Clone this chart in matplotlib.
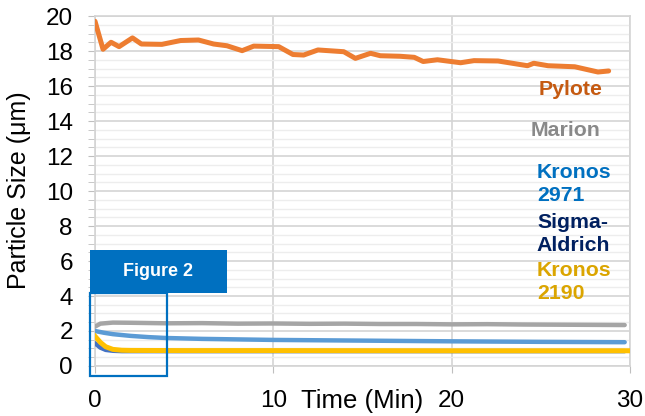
"""Particle size vs time for five TiO2 samples."""
import matplotlib
matplotlib.use("Agg")
import matplotlib.pyplot as plt
from matplotlib.patches import Rectangle
from matplotlib.ticker import MultipleLocator

plt.rcParams["font.family"] = ["Liberation Sans", "DejaVu Sans"]

# Pylote
pylote_t = [0, 0.45, 0.9, 1.35, 2.1, 2.6, 3.75, 4.8, 5.8, 6.65, 7.4, 8.25, 8.9,
            10.3, 11.1, 11.7, 12.5, 13.95, 14.6, 15.45, 16.0, 17.1, 17.9, 18.4,
            19.2, 20.5, 21.25, 22.6, 24.25, 24.6, 25.4, 26.9, 28.2, 28.8]
pylote_v = [19.7, 18.1, 18.5, 18.25, 18.75, 18.4, 18.38, 18.6, 18.63, 18.4, 18.3,
            18.02, 18.28, 18.25, 17.8, 17.77, 18.06, 17.96, 17.58, 17.87, 17.73,
            17.7, 17.64, 17.4, 17.5, 17.33, 17.45, 17.43, 17.16, 17.3, 17.16,
            17.1, 16.8, 16.86]

# Marion
marion_t = [0, 0.3, 1, 2, 4, 6, 8, 10, 12, 14, 16, 18, 20, 22, 24, 26, 28, 29.7]
marion_v = [2.25, 2.42, 2.48, 2.47, 2.44, 2.45, 2.42, 2.43, 2.41, 2.42, 2.40,
            2.40, 2.38, 2.39, 2.37, 2.36, 2.35, 2.34]

# Kronos 2971
k2971_t = [0, 0.5, 1, 2, 3, 4, 6, 8, 10, 15, 20, 25, 29.7]
k2971_v = [2.0, 1.9, 1.82, 1.72, 1.65, 1.6, 1.55, 1.52, 1.49, 1.45, 1.41, 1.38, 1.36]

# Sigma-Aldrich
sigma_t = [0, 0.3, 0.6, 1.0, 1.5, 2, 10, 20, 29.7]
sigma_v = [1.3, 1.05, 0.92, 0.87, 0.85, 0.85, 0.85, 0.85, 0.85]

# Kronos 2190
k2190_t = [0, 0.3, 0.6, 1.0, 1.5, 2, 5, 10, 20, 30]
k2190_v = [1.7, 1.35, 1.1, 0.95, 0.9, 0.89, 0.88, 0.88, 0.87, 0.87]

fig = plt.figure(figsize=(6.45, 4.16), dpi=100)
ax = fig.add_axes([0.1473, 0.1202, 0.8295, 0.8413])

ax.plot(marion_t, marion_v, color="#A5A5A5", lw=3.2, solid_capstyle="round", zorder=3)
ax.plot(k2971_t, k2971_v, color="#5B9BD5", lw=3.2, solid_capstyle="round", zorder=3)
ax.plot(sigma_t, sigma_v, color="#4472C4", lw=3.2, solid_capstyle="round", zorder=3)
ax.plot(k2190_t, k2190_v, color="#FFC000", lw=3.6, zorder=4)
ax.plot(pylote_t, pylote_v, color="#ED7D31", lw=3.6, solid_capstyle="round", zorder=4)

ax.set_xlim(0, 30)
ax.set_ylim(0, 20)
ax.xaxis.set_major_locator(MultipleLocator(10))
ax.yaxis.set_major_locator(MultipleLocator(2))
ax.yaxis.set_minor_locator(MultipleLocator(0.5))
ax.grid(which="major", color="#D4D4D4", lw=1.2)
ax.grid(which="minor", axis="y", color="#EDEDED", lw=1.0)
ax.set_axisbelow(True)
for s in ax.spines.values():
    s.set_color("#D4D4D4")
    s.set_linewidth(1.2)
ax.tick_params(axis="x", which="major", direction="out", length=5, color="#BFBFBF",
               labelsize=17.5, pad=12)
ax.tick_params(axis="y", which="major", direction="out", length=5, color="#BFBFBF",
               labelsize=17.5, pad=11)
ax.tick_params(axis="y", which="minor", direction="out", length=5, color="#BFBFBF",
               labelleft=False)

ax.text(0.50, -0.10, "Time (Min)", transform=ax.transAxes, fontsize=18.5,
        ha="center", va="center")
ax.text(-0.142, 0.503, "Particle Size (μm)", transform=ax.transAxes, fontsize=18,
        rotation=90, ha="center", va="center")

# series labels
ax.text(0.888, 0.791, "Pylote", transform=ax.transAxes, color="#C55A11",
        fontsize=15.3, fontweight="bold", ha="center", va="center")
ax.text(0.879, 0.674, "Marion", transform=ax.transAxes, color="#898989",
        fontsize=15.3, fontweight="bold", ha="center", va="center")
ax.text(0.826, 0.52, "Kronos\n2971", transform=ax.transAxes, color="#0070C0",
        fontsize=15.3, fontweight="bold", ha="left", va="center", linespacing=1.25)
ax.text(0.826, 0.377, "Sigma-\nAldrich", transform=ax.transAxes, color="#002060",
        fontsize=15.3, fontweight="bold", ha="left", va="center", linespacing=1.25)
ax.text(0.826, 0.24, "Kronos\n2190", transform=ax.transAxes, color="#DBA500",
        fontsize=15.3, fontweight="bold", ha="left", va="center", linespacing=1.25)

# "Figure 2" call-out box
ax.add_patch(Rectangle((-0.0093, 0.209), 0.2553, 0.122, transform=ax.transAxes,
                       facecolor="#0070C0", edgecolor="none", clip_on=False, zorder=5))
ax.text(0.118, 0.27, "Figure 2", transform=ax.transAxes, color="white",
        fontsize=13, fontweight="bold", ha="center", va="center", zorder=6)
ax.add_patch(Rectangle((-0.0093, -0.028), 0.1433, 0.237, transform=ax.transAxes,
                       facecolor="none", edgecolor="#0070C0", lw=1.6, clip_on=False, zorder=5))

plt.savefig("out.png", dpi=100)
plt.close()
